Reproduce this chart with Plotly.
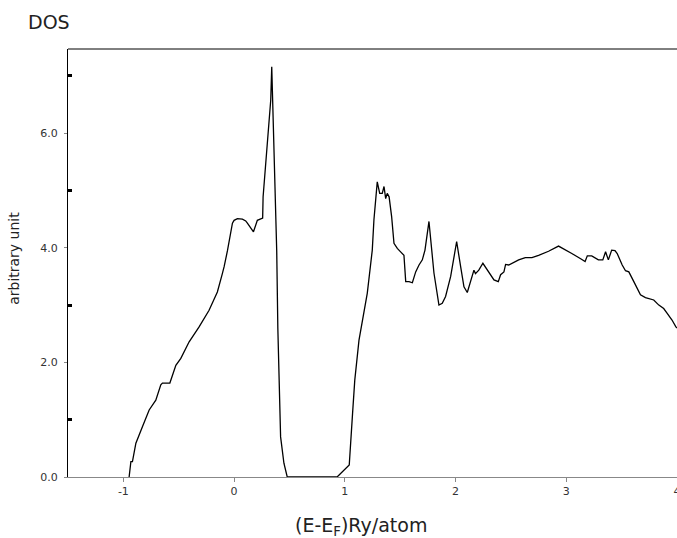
import plotly.graph_objects as go

energy = [-0.948, -0.932, -0.918, -0.887, -0.827, -0.767, -0.707, -0.662, -0.647, -0.58,
          -0.526, -0.481, -0.406, -0.316, -0.226, -0.151, -0.106, -0.09, -0.06, -0.03,
          -0.015, 0.0, 0.03, 0.075, 0.105, 0.12, 0.175, 0.21, 0.25, 0.258, 0.262, 0.286,
          0.316, 0.331, 0.34, 0.355, 0.37, 0.385, 0.395, 0.405, 0.42, 0.45, 0.48,
          0.93, 1.04, 1.07, 1.09, 1.128, 1.203, 1.248, 1.263, 1.293, 1.315, 1.338, 1.354,
          1.369, 1.383, 1.40, 1.423, 1.444, 1.474, 1.504, 1.534, 1.55, 1.58, 1.61, 1.64,
          1.67, 1.70, 1.724, 1.76, 1.805, 1.85, 1.88, 1.91, 1.956, 2.01, 2.046, 2.076,
          2.106, 2.136, 2.166, 2.18, 2.21, 2.247, 2.286, 2.317, 2.347, 2.386, 2.407,
          2.437, 2.452, 2.48, 2.51, 2.57, 2.63, 2.69, 2.75, 2.84, 2.93, 2.98, 3.05,
          3.13, 3.17, 3.19, 3.23, 3.29, 3.33, 3.355, 3.38, 3.41, 3.44, 3.46, 3.505,
          3.535, 3.565, 3.61, 3.67, 3.715, 3.79, 3.836, 3.88, 3.91, 3.955, 3.99, 4.0]
dos = [0.0, 0.27, 0.27, 0.59, 0.88, 1.17, 1.34, 1.61, 1.64, 1.64,
       1.95, 2.07, 2.36, 2.62, 2.91, 3.23, 3.55, 3.67, 3.95, 4.25,
       4.43, 4.48, 4.51, 4.50, 4.47, 4.43, 4.28, 4.48, 4.51, 4.52, 4.89, 5.50,
       6.10, 6.58, 7.16, 6.20, 5.30, 3.95, 2.60, 1.60, 0.70, 0.24, 0.0,
       0.0, 0.21, 1.11, 1.69, 2.39, 3.21, 3.96, 4.49, 5.15, 4.95, 4.95, 5.07,
       4.86, 4.95, 4.89, 4.54, 4.08, 3.99, 3.93, 3.87, 3.41, 3.41, 3.39, 3.58,
       3.70, 3.79, 3.96, 4.46, 3.56, 3.00, 3.03, 3.15, 3.50, 4.11, 3.67, 3.32,
       3.22, 3.41, 3.61, 3.55, 3.61, 3.73, 3.62, 3.53, 3.44, 3.41, 3.53,
       3.58, 3.71, 3.70, 3.73, 3.79, 3.83, 3.83, 3.87, 3.94, 4.03, 3.97, 3.90,
       3.81, 3.76, 3.86, 3.86, 3.79, 3.79, 3.93, 3.79, 3.96, 3.95, 3.90, 3.70,
       3.60, 3.58, 3.41, 3.18, 3.13, 3.09, 3.00, 2.94, 2.86, 2.74, 2.62, 2.60]

x_ticks = [-1, 0, 1, 2, 3, 4]
x_ticklabels = ["-1", "0", "1", "2", "3", "4"]
y_ticks = [0, 2, 4, 6]
y_ticklabels = ["0.0", "2.0", "4.0", "6.0"]
y_minor_ticks = [1, 3, 5, 7]

FONT = "DejaVu Sans, Liberation Sans, Arial, sans-serif"

fig = go.Figure()
fig.add_trace(go.Scatter(x=energy, y=dos, mode="lines",
                         line=dict(color="black", width=1.3), showlegend=False,
                         hoverinfo="skip"))

fig.update_layout(
    width=677, height=538,
    margin=dict(l=68, r=0, t=49, b=61, autoexpand=False),
    paper_bgcolor="white", plot_bgcolor="white",
    font=dict(family=FONT, color="#222"),
    xaxis=dict(range=[-1.5, 4.0], tickvals=x_ticks, ticktext=x_ticklabels,
               showgrid=False, zeroline=False, showline=True, linecolor="#888",
               linewidth=1.2, ticks="outside", ticklen=4, tickcolor="#888",
               ticklabeloverflow="allow", automargin=False,
               tickfont=dict(size=11, color="#333"), fixedrange=True),
    yaxis=dict(range=[0, 7.47], tickvals=y_ticks, ticktext=y_ticklabels,
               showgrid=False, zeroline=False, showline=True, linecolor="black",
               linewidth=1, ticks="outside", ticklen=3, tickcolor="#888",
               ticklabelstandoff=4, fixedrange=True, automargin=False,
               tickfont=dict(size=11, color="#333"),
               minor=dict(tickvals=y_minor_ticks, ticks="inside", ticklen=4,
                          tickwidth=3, tickcolor="black", showgrid=False)),
    shapes=[dict(type="line", xref="paper", yref="paper", x0=0, x1=1, y0=1, y1=1,
                 line=dict(color="black", width=1))],
    annotations=[
        dict(text="DOS", xref="paper", yref="paper", x=-0.069, y=1.062,
             xanchor="left", yanchor="middle", showarrow=False,
             font=dict(size=19, color="#222")),
        dict(text="arbitrary unit", xref="paper", yref="paper", x=-0.0887, y=0.512,
             xanchor="center", yanchor="middle", textangle=-90, showarrow=False,
             font=dict(size=14, color="#222")),
        dict(text="(E-E<sub>F</sub>)Ry/atom", xref="paper", yref="paper",
             x=0.481, y=-0.1145, xanchor="center", yanchor="middle", showarrow=False,
             font=dict(size=19, color="#222")),
    ],
)

fig.write_html(
    "out.html",
    config={"displayModeBar": False},
    post_script="document.body.style.margin='0';document.body.style.overflow='hidden';",
)
